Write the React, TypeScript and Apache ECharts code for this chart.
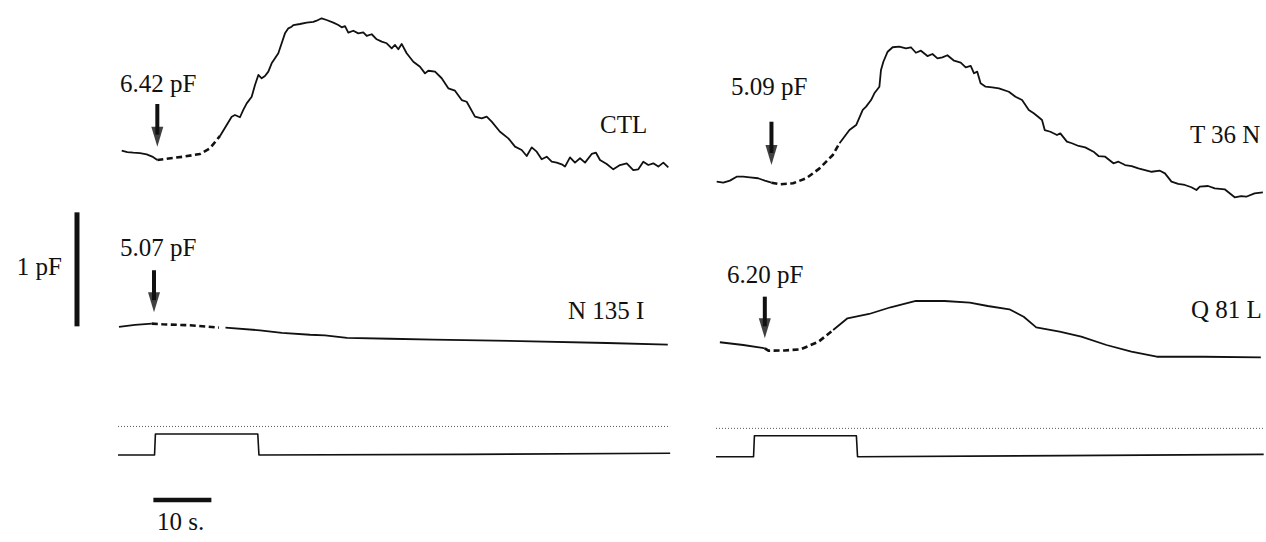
import React, { useEffect, useRef } from "react";
import * as echarts from "echarts";

// ---------- DATA (time in s from trace start, ΔC in pF relative to value at arrow) ----------
const ctlPre = [[0.64, 0.082], [1.6, 0.07], [2.64, 0.064], [3.8, 0.061], [4.95, 0.05], [5.9, 0.03], [6.78, 0]];
const ctlDash = [[6.78, 0], [8.4, 0.011], [11.26, 0.029], [14.14, 0.053], [15.86, 0.103], [17.59, 0.211]];
const ctlPost = [
  [17.59, 0.211], [18.74, 0.307], [19.6, 0.38], [20.17, 0.395], [21.03, 0.375], [21.6, 0.439],
  [22.19, 0.497], [23.05, 0.555], [23.62, 0.658], [24.2, 0.746], [24.77, 0.717], [25.34, 0.737],
  [25.92, 0.775], [26.49, 0.848], [27.07, 0.892], [27.64, 0.936], [28.22, 1.024], [28.79, 1.111],
  [29.37, 1.155], [29.94, 1.169], [30.23, 1.184], [31.38, 1.193], [32.53, 1.205], [33.68, 1.211],
  [34.25, 1.222], [35.11, 1.243], [35.97, 1.228], [37.13, 1.205], [37.99, 1.184], [38.57, 1.164],
  [39.14, 1.175], [39.71, 1.117], [40.57, 1.134], [41.43, 1.111], [42.29, 1.12], [42.88, 1.088],
  [43.74, 1.103], [44.6, 1.059], [45.47, 1.038], [46.33, 1.024], [47.19, 0.98], [47.76, 1.009],
  [48.33, 0.971], [48.91, 1.018], [49.77, 0.936], [50.92, 0.862], [52.07, 0.818], [52.93, 0.76],
  [53.5, 0.783], [54.66, 0.775], [55.81, 0.717], [56.95, 0.629], [58.1, 0.608], [59.26, 0.526],
  [60.12, 0.511], [61.55, 0.38], [62.71, 0.366], [63.57, 0.38], [64.43, 0.336], [65.86, 0.248],
  [67.3, 0.19], [68.45, 0.117], [69.6, 0.088], [70.47, 0.035], [71.33, 0.111], [72.19, 0.073],
  [73.05, 0.006], [73.91, 0.029], [74.78, -0.015], [75.64, -0.023], [76.5, -0.038], [77.07, -0.058],
  [77.93, 0.023], [78.79, -0.023], [79.66, 0.015], [80.52, -0.023], [81.67, 0.053], [82.41, 0.064],
  [83.1, 0], [84.26, -0.035], [85.4, -0.082], [86.55, -0.044], [87.71, -0.029], [88.84, -0.088],
  [89.71, -0.082], [90.57, -0.015], [91.43, -0.044], [92.29, -0.029], [93.16, -0.058], [94.02, -0.023],
  [94.88, -0.064],
];

const t36nPre = [
  [0.12, 0.009], [1.26, 0], [2.41, 0.018], [3.57, 0.053], [4.71, 0.053], [5.86, 0.047],
  [7.29, 0.039], [8.45, 0.018], [9.6, 0],
];
const t36nDash = [[9.6, 0], [11.03, -0.014], [13.33, -0.005], [15.64, 0.039], [17.93, 0.126], [20.22, 0.243], [21.38, 0.346]];
const t36nPost = [
  [21.38, 0.346], [23.1, 0.462], [24.26, 0.506], [25.4, 0.638], [25.98, 0.667], [26.84, 0.725],
  [27.41, 0.784], [28.28, 0.842], [28.56, 0.989], [28.97, 1.061], [29.71, 1.149], [30.57, 1.188],
  [31.72, 1.193], [32.88, 1.179], [33.74, 1.188], [34.6, 1.14], [35.47, 1.158], [36.6, 1.111],
  [37.47, 1.129], [38.33, 1.091], [39.19, 1.1], [40.05, 1.118], [41.21, 1.07], [42.36, 1.053],
  [43.22, 1.012], [44.09, 1.024], [44.66, 0.96], [45.22, 0.974], [45.8, 0.872], [46.67, 0.842],
  [47.81, 0.837], [48.97, 0.828], [50.69, 0.798], [51.84, 0.754], [52.98, 0.725], [54.14, 0.638],
  [55.0, 0.609], [55.86, 0.574], [56.43, 0.55], [56.9, 0.462], [57.88, 0.447], [59.02, 0.418],
  [59.6, 0.433], [60.74, 0.36], [61.6, 0.346], [62.76, 0.322], [63.91, 0.31], [65.34, 0.272],
  [66.21, 0.234], [67.36, 0.228], [68.79, 0.17], [69.66, 0.184], [70.81, 0.155], [71.95, 0.146],
  [73.1, 0.126], [74.26, 0.111], [75.4, 0.096], [76.84, 0.105], [77.71, 0.082], [78.84, 0.009],
  [80.0, -0.011], [81.16, -0.02], [82.29, -0.04], [83.16, -0.064], [83.74, -0.035], [85.17, -0.029],
  [86.33, -0.049], [88.05, -0.058], [88.91, -0.093], [89.78, -0.128], [90.91, -0.117], [91.78, -0.123],
  [93.22, -0.093], [94.66, -0.084],
];

const n135iPre = [[0.17, -0.029], [2.93, -0.011], [5.83, 0]];
const n135iDash = [[5.83, 0], [7.69, -0.006], [12.41, -0.015], [17.41, -0.035]];
const n135iPost = [
  [18.53, -0.035], [24.48, -0.059], [28.26, -0.082], [33.1, -0.098], [35.69, -0.103], [39.48, -0.126],
  [46.9, -0.133], [54.41, -0.14], [69.31, -0.153], [84.31, -0.17], [94.79, -0.184],
];

const q81lPre = [[0.67, 0.053], [4.71, 0.029], [8.45, 0]];
const q81lDash = [[8.45, 0], [9.07, -0.021], [11.9, -0.019], [14.66, -0.009], [17.76, 0.058], [20.28, 0.161]];
const q81lPost = [
  [20.28, 0.161], [22.76, 0.263], [26.5, 0.301], [30.22, 0.36], [34.59, 0.415], [39.57, 0.415],
  [43.93, 0.4], [47.03, 0.371], [50.78, 0.342], [53.26, 0.277], [55.43, 0.184], [59.48, 0.146],
  [63.22, 0.102], [67.59, 0.029], [71.9, -0.03], [76.29, -0.074], [84.38, -0.074], [94.31, -0.079],
];

// arrows: [time, top ΔC, tip ΔC]
const arrowCTL = [6.78, 0.491, 0.117];
const arrowT36N = [9.6, 0.535, 0.155];
const arrowN135I = [6.21, 0.468, 0.1];
const arrowQ81L = [8.45, 0.453, 0.088];

// stimulus (relative level)
const stimLeft = [[0, 0], [6.3, 0], [6.45, 1], [24.1, 1], [24.3, 0], [60, 0.03], [95.2, 0.08]];
const stimRight = [[0, 0], [6.5, 0], [6.65, 1], [24.3, 1], [24.5, 0], [60, 0.05], [94.8, 0.11]];
const refLeft = [[0, 1.36], [95.2, 1.36]];
const refRight = [[0, 1.35], [94.8, 1.35]];

// scale bars
const scaleBarPF = [[-7.07, -0.024], [-7.07, 0.976]]; // 1 pF
const scaleBarS = [[6.1, -2.14], [16.1, -2.14]]; // 10 s

const labels = {
  ctl: "CTL", t36n: "T 36 N", n135i: "N 135 I", q81l: "Q 81 L",
  c1: "6.42 pF", c2: "5.09 pF", c3: "5.07 pF", c4: "6.20 pF",
  pf: "1 pF", sec: "10 s.",
};

// ---------- LAYOUT ----------
const PX_PER_S = 5.8;
const PX_PER_PF = 114;
const LEFT_X0 = 118;
const RIGHT_X0 = 716;
const YMIN = -0.3;
const YMAX = 1.4;
const STIM_UNIT = 21;
const INK = "#111";
const FONT = "'Liberation Serif', 'Times New Roman', serif";

function traceGrid(x0: number, xMin: number, xMax: number, yA: number) {
  return {
    left: x0 + xMin * PX_PER_S,
    width: (xMax - xMin) * PX_PER_S,
    top: yA - YMAX * PX_PER_PF,
    height: (YMAX - YMIN) * PX_PER_PF,
  };
}
function stimGrid(x0: number, xMin: number, xMax: number, yBase: number) {
  return {
    left: x0 + xMin * PX_PER_S,
    width: (xMax - xMin) * PX_PER_S,
    top: yBase - 2 * STIM_UNIT,
    height: 5 * STIM_UNIT,
  };
}

function lineS(idx: number, data: number[][], width = 2, dashed = false, color = INK): any {
  return {
    type: "line",
    xAxisIndex: idx,
    yAxisIndex: idx,
    data,
    symbol: "none",
    silent: true,
    clip: false,
    lineStyle: { color, width, type: dashed ? [6, 3.5] : "solid", cap: "butt", join: "round" },
  };
}

function traceSeries(idx: number, pre: number[][], dash: number[][], post: number[][], arrow: number[]) {
  const [t, top, tip] = arrow;
  const headPF = 20 / PX_PER_PF;
  return [
    lineS(idx, pre, 1.8),
    lineS(idx, dash, 2.6, true),
    lineS(idx, post, 1.8),
    lineS(idx, [[t, top], [t, tip + headPF * 0.6]], 4),
    {
      type: "scatter",
      xAxisIndex: idx,
      yAxisIndex: idx,
      data: [[t, tip]],
      symbol: "triangle",
      symbolRotate: 180,
      symbolSize: [12, 20],
      symbolOffset: [0, -10],
      itemStyle: { color: INK },
      silent: true,
      clip: false,
    },
  ];
}

function text(x: number, y: number, s: string, align = "left") {
  return {
    type: "text",
    x,
    y,
    style: { text: s, fill: INK, font: `25px ${FONT}`, textAlign: align, textVerticalAlign: "middle" },
    silent: true,
  };
}

export default function App() {
  const ref = useRef<HTMLDivElement>(null);
  useEffect(() => {
    if (!ref.current) return;
    const chart = echarts.init(ref.current, null, { renderer: "svg" });
    const grids = [
      traceGrid(LEFT_X0, -20, 95.2, 160),
      traceGrid(RIGHT_X0, 0, 95.2, 182.7),
      traceGrid(LEFT_X0, -20, 95.2, 323.6),
      traceGrid(RIGHT_X0, 0, 95.2, 348.3),
      stimGrid(LEFT_X0, -20, 95.2, 455),
      stimGrid(RIGHT_X0, 0, 95.2, 456.7),
    ];
    const xRanges = [[-20, 95.2], [0, 95.2], [-20, 95.2], [0, 95.2], [-20, 95.2], [0, 95.2]];
    const xAxis = grids.map((_, i) => ({
      type: "value", gridIndex: i, min: xRanges[i][0], max: xRanges[i][1], show: false,
    }));
    const yAxis = grids.map((_, i) => ({
      type: "value", gridIndex: i, min: i < 4 ? YMIN : -3, max: i < 4 ? YMAX : 2, show: false,
    }));
    const series: any[] = [
      ...traceSeries(0, ctlPre, ctlDash, ctlPost, arrowCTL),
      ...traceSeries(1, t36nPre, t36nDash, t36nPost, arrowT36N),
      ...traceSeries(2, n135iPre, n135iDash, n135iPost, arrowN135I),
      ...traceSeries(3, q81lPre, q81lDash, q81lPost, arrowQ81L),
      lineS(2, scaleBarPF, 5),
      lineS(4, stimLeft, 1.6),
      lineS(5, stimRight, 1.6),
      { ...lineS(4, refLeft, 1, false, "#555"), lineStyle: { color: "#555", width: 1, type: [1, 2] } },
      { ...lineS(5, refRight, 1, false, "#555"), lineStyle: { color: "#555", width: 1, type: [1, 2] } },
      lineS(4, scaleBarS, 4.5),
    ];
    chart.setOption({
      animation: false,
      backgroundColor: "#fff",
      grid: grids.map((g) => ({ ...g, containLabel: false, show: false })),
      xAxis,
      yAxis,
      series,
      graphic: [
        text(120, 83, labels.c1),
        text(600, 124, labels.ctl),
        text(731, 86, labels.c2),
        text(1190, 134, labels.t36n),
        text(120, 247, labels.c3),
        text(568, 310, labels.n135i),
        text(727, 274, labels.c4),
        text(1191, 309, labels.q81l),
        text(62, 266, labels.pf, "right"),
        text(157, 521, labels.sec),
      ],
    });
    return () => chart.dispose();
  }, []);
  return (
    <div
      ref={ref}
      style={{ position: "absolute", left: 0, top: 0, width: 1266, height: 542, background: "#fff" }}
    />
  );
}
